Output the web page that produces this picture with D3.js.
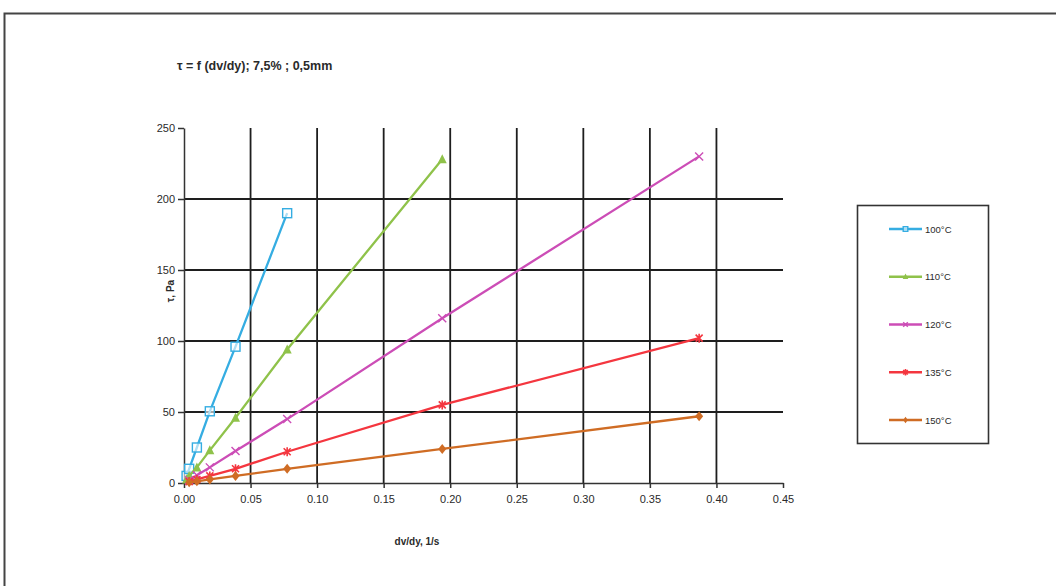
<!DOCTYPE html>
<html>
<head>
<meta charset="utf-8">
<script src="https://cdn.jsdelivr.net/npm/d3@7"></script>
<style>
body { margin: 0; background: #fff; }
text { font-family: "Liberation Sans", Arial, sans-serif; }
</style>
</head>
<body>
<script>
// data
var xTicks = [0, 0.05, 0.10, 0.15, 0.20, 0.25, 0.30, 0.35, 0.40, 0.45];
var yTicks = [0, 50, 100, 150, 200, 250];
var names = ["100°C", "110°C", "120°C", "135°C", "150°C"];
var x100 = [0.00194, 0.00387, 0.00968, 0.0194, 0.0387, 0.0775];
var y100 = [5, 10, 25, 50.5, 96, 190];
var x110 = [0.00194, 0.00387, 0.00968, 0.0194, 0.0387, 0.0775, 0.194];
var y110 = [2.5, 5, 11, 23, 46, 94, 228];
var x120 = [0.00387, 0.00968, 0.0194, 0.0387, 0.0775, 0.194, 0.387];
var y120 = [2, 5.5, 11, 22.5, 45, 116, 230];
var x135 = [0.00387, 0.00968, 0.0194, 0.0387, 0.0775, 0.194, 0.387];
var y135 = [1, 2.5, 5, 10, 22, 55, 102];
var x150 = [0.00387, 0.00968, 0.0194, 0.0387, 0.0775, 0.194, 0.387];
var y150 = [0.5, 1.2, 2.5, 5, 10, 24, 47];

var colors = ["#35ade2", "#8fc24a", "#cc4db6", "#f4363f", "#cf6c24"];
var markers = ["square", "triangle", "cross", "star", "diamond"];
var xs = [x100, x110, x120, x135, x150];
var ys = [y100, y110, y120, y135, y150];

var width = 1056, height = 586;
var svg = d3.select("body").append("svg").attr("width", width).attr("height", height);

// outer frame
svg.append("rect").attr("x", 4.5).attr("y", 13.5).attr("width", 1100).attr("height", 700)
	.attr("fill", "none").attr("stroke", "#444").attr("stroke-width", 2);

var x = d3.scaleLinear().domain([0, 0.45]).range([184, 783]);
var y = d3.scaleLinear().domain([0, 250]).range([483, 128]);

// grid
var grid = svg.append("g");
grid.selectAll("line.v").data(xTicks.slice(1, -1)).enter().append("line")
	.attr("x1", d => x(d)).attr("x2", d => x(d)).attr("y1", y(250)).attr("y2", y(0))
	.attr("stroke", "#1e1e1e").attr("stroke-width", 1.8);
grid.selectAll("line.h").data(yTicks.slice(1, -1)).enter().append("line")
	.attr("x1", x(0)).attr("x2", x(0.45)).attr("y1", d => y(d)).attr("y2", d => y(d))
	.attr("stroke", "#1e1e1e").attr("stroke-width", 1.8);

// axes
var xAxis = svg.append("g").attr("transform", "translate(0," + y(0) + ")")
	.call(d3.axisBottom(x).tickValues(xTicks).tickFormat(d3.format(".2f")).tickSize(5).tickSizeOuter(0));
var yAxis = svg.append("g").attr("transform", "translate(" + x(0) + ",0)")
	.call(d3.axisLeft(y).tickValues(yTicks).tickSize(6).tickSizeOuter(0));
[xAxis, yAxis].forEach(function (a) {
	a.select(".domain").attr("stroke", "#333").attr("stroke-width", 1.5);
	a.selectAll(".tick line").attr("stroke", "#333").attr("stroke-width", 1.5);
	a.selectAll("text").style("font-size", "11px").attr("fill", "#2a2a2a");
});
xAxis.selectAll("text").attr("dy", "1.05em");
yAxis.selectAll("text").attr("x", -9);

// marker drawing
function marker(g, type, color, size) {
	var s = size;
	if (type == "square") {
		g.append("rect").attr("x", -s).attr("y", -s).attr("width", 2 * s).attr("height", 2 * s)
			.attr("fill", "#fff").attr("fill-opacity", 0.6).attr("stroke", color).attr("stroke-width", 1.4);
	} else if (type == "triangle") {
		g.append("path").attr("d", "M0," + (-s - 1) + "L" + (s + 0.5) + "," + (s) + "L" + (-s - 0.5) + "," + (s) + "Z").attr("fill", color);
	} else if (type == "cross") {
		g.append("path").attr("d", "M" + -s + "," + -s + "L" + s + "," + s + "M" + s + "," + -s + "L" + -s + "," + s)
			.attr("stroke", color).attr("stroke-width", 1.4);
	} else if (type == "star") {
		g.append("path").attr("d", "M" + -s + "," + -s + "L" + s + "," + s + "M" + s + "," + -s + "L" + -s + "," + s + "M0," + (-s - 1) + "L0," + (s + 1))
			.attr("stroke", color).attr("stroke-width", 1.6);
	} else {
		g.append("path").attr("d", "M0," + (-s - 1) + "L" + (s) + ",0L0," + (s + 1) + "L" + (-s) + ",0Z").attr("fill", color);
	}
}

var line = d3.line().x(d => x(d[0])).y(d => y(d[1]));
var sizes = [4.5, 4, 4, 3.5, 4];

for (var i = 0; i < names.length; i++) {
	var pts = xs[i].map(function (v, j) { return [v, ys[i][j]]; });
	svg.append("path").datum(pts).attr("d", line).attr("fill", "none")
		.attr("stroke", colors[i]).attr("stroke-width", 2.3);
	for (var j = 0; j < pts.length; j++) {
		var g = svg.append("g").attr("transform", "translate(" + x(pts[j][0]) + "," + y(pts[j][1]) + ")");
		marker(g, markers[i], colors[i], sizes[i]);
	}
}

// legend
svg.append("rect").attr("x", 857.5).attr("y", 205.5).attr("width", 131).attr("height", 238)
	.attr("fill", "none").attr("stroke", "#333").attr("stroke-width", 1.6);
var legY = d3.scalePoint().domain(names).range([229, 420]);
names.forEach(function (n, i) {
	var ly = legY(n);
	svg.append("line").attr("x1", 889).attr("x2", 922).attr("y1", ly).attr("y2", ly)
		.attr("stroke", colors[i]).attr("stroke-width", 2.3);
	var g = svg.append("g").attr("transform", "translate(905.5," + ly + ")");
	marker(g, markers[i], colors[i], 2.3);
	svg.append("text").attr("x", 925).attr("y", ly + 3.5).style("font-size", "9.5px").attr("fill", "#2a2a2a").text(n);
});

// titles
svg.append("text").attr("x", 177).attr("y", 70).style("font-size", "12.5px").style("font-weight", "bold")
	.attr("fill", "#2a2a2a").text("τ = f (dv/dy); 7,5% ; 0,5mm");
svg.append("text").attr("transform", "translate(174,291) rotate(-90)").attr("text-anchor", "middle")
	.style("font-size", "10px").style("font-weight", "bold").attr("fill", "#2a2a2a").text("τ, Pa");
svg.append("text").attr("x", 417).attr("y", 545).attr("text-anchor", "middle")
	.style("font-size", "10px").style("font-weight", "bold").attr("fill", "#2a2a2a").text("dv/dy, 1/s");
</script>
</body>
</html>
